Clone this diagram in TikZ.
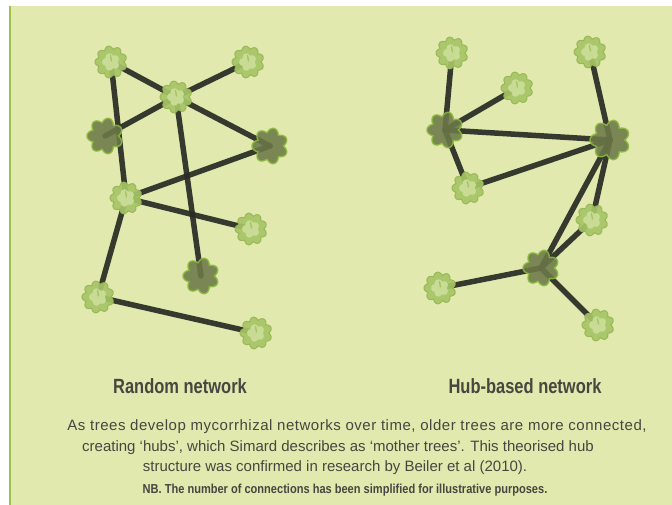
\documentclass[tikz,border=0pt]{standalone}
\usepackage{fontspec}
\setmainfont{Liberation Sans}
\newfontfamily\condfont[FakeStretch=0.8]{Liberation Sans}
\newfontfamily\notefont[FakeStretch=0.85]{Liberation Sans}
\usepackage{xcolor}
\usepackage{tikz}
\usetikzlibrary{backgrounds}

\definecolor{panelbg}{HTML}{E1E9AF}
\definecolor{panelrule}{HTML}{9FC14A}
\definecolor{linkcol}{HTML}{2A2C25}
\definecolor{youngrim}{HTML}{97B655}
\definecolor{youngbody}{HTML}{A7C566}
\definecolor{younglight}{HTML}{CCDF9A}
\definecolor{oldbody}{HTML}{6C7948}
\definecolor{oldrim}{HTML}{8CBB3C}
\definecolor{textgrey}{HTML}{46473F}

% scalloped crown of a tree, centred on the node
\newcommand{\youngtree}[1]{%
  \begin{scope}[shift={(path picture bounding box.center)}]
    \filldraw[youngbody, draw=youngrim, line width=1pt, opacity=0.92]
      plot[domain=0:358, samples=180, variable=\t] (\t:{#1*(0.8+0.2*abs(sin(4.5*\t)))}) -- cycle;
    \fill[younglight, opacity=0.9, shift={(-1,-1.5)}, rotate=20]
      plot[domain=0:356, samples=90, variable=\t] (\t:{0.55*#1*(0.75+0.25*abs(sin(2.5*\t)))}) -- cycle;
    \draw[youngbody, line width=1.4pt, line cap=round] (0.5,-1) -- (-0.5,-0.4*#1);
  \end{scope}}
\newcommand{\oldtree}[1]{%
  \begin{scope}[shift={(path picture bounding box.center)}]
    \filldraw[oldbody, draw=oldrim, line width=1.4pt, opacity=0.88]
      plot[domain=0:358, samples=180, variable=\t] (\t:{#1*(0.74+0.26*abs(sin(3.5*\t)))}) -- cycle;
  \end{scope}}

\tikzset{
  treebase/.style={circle, minimum size=50pt, inner sep=0pt},
  young/.style={treebase, path picture={\youngtree{16}}},
  old/.style={treebase, path picture={\oldtree{18}}},
  hub/.style={treebase, path picture={\oldtree{20}}},
  link/.style={linkcol, line width=5.5pt, opacity=0.93, line cap=round},
  headline/.style={text=textgrey, font=\condfont\bfseries\fontsize{20.6}{24}\selectfont},
  caption/.style={text=textgrey, font=\fontsize{15}{18}\selectfont},
  footnote/.style={text=textgrey, font=\notefont\bfseries\fontsize{13}{15}\selectfont}
}

\begin{document}
\begin{tikzpicture}[x=1pt, y=-1pt]
\useasboundingbox (0,0) rectangle (672,505);

% Random network
\node[young] (r1) at (111,62) {};
\node[young] (r2) at (248,62) {};
\node[young] (r3) at (176,97) {};
\node[old] (r4) at (105,136) {};
\node[old] (r5) at (270,146) {};
\node[young] (r6) at (126,198) {};
\node[young] (r7) at (251,229) {};
\node[old] (r8) at (201,276) {};
\node[young] (r9) at (98,297) {};
\node[young] (r10) at (256,333) {};

% Hub-based network
\node[young] (h1) at (452,53) {};
\node[young] (h2) at (517,88) {};
\node[old] (h3) at (445,130) {};
\node[hub] (h4) at (610,140) {};
\node[young] (h5) at (468,188) {};
\node[young] (h6) at (590,52) {};
\node[young] (h7) at (592,220) {};
\node[old] (h8) at (541,268) {};
\node[young] (h9) at (440,288) {};
\node[young] (h10) at (598,325) {};

% Panel and connections, behind the trees
\begin{scope}[on background layer]
\fill[panelbg] (9,6) rectangle (672,505);
\draw[panelrule, line width=1.5pt] (9.75,6) -- (9.75,505);

\foreach \a/\b in {r1/r3, r1/r6, r3/r2, r3/r4, r3/r5, r3/r8, r6/r5, r6/r7, r6/r9, r9/r10}
  \draw[link] (\a.center) -- (\b.center);

\foreach \a/\b in {h1/h3, h3/h2, h3/h4, h3/h5, h5/h4, h6/h4, h4/h8, h4/h7, h7/h8, h8/h9, h8/h10}
  \draw[link] (\a.center) -- (\b.center);
\end{scope}

% Labels
\node[headline] (randlabel) at (180,386) {Random network};
\node[headline] (hublabel) at (525,386) {Hub-based network};

\node[caption] (story1) at (357,427) {\addfontfeature{LetterSpace=3.5}As trees develop mycorrhizal networks over time, older trees are more connected,};
\node[caption] (story2) at (338,448) {creating ‘hubs’, which Simard describes as ‘mother trees’. This theorised hub};
\node[caption] (story3) at (335,468) {structure was confirmed in research by Beiler et al (2010).};

\node[footnote] (nb) at (345,490) {NB. The number of connections has been simplified for illustrative purposes.};
\end{tikzpicture}
\end{document}
